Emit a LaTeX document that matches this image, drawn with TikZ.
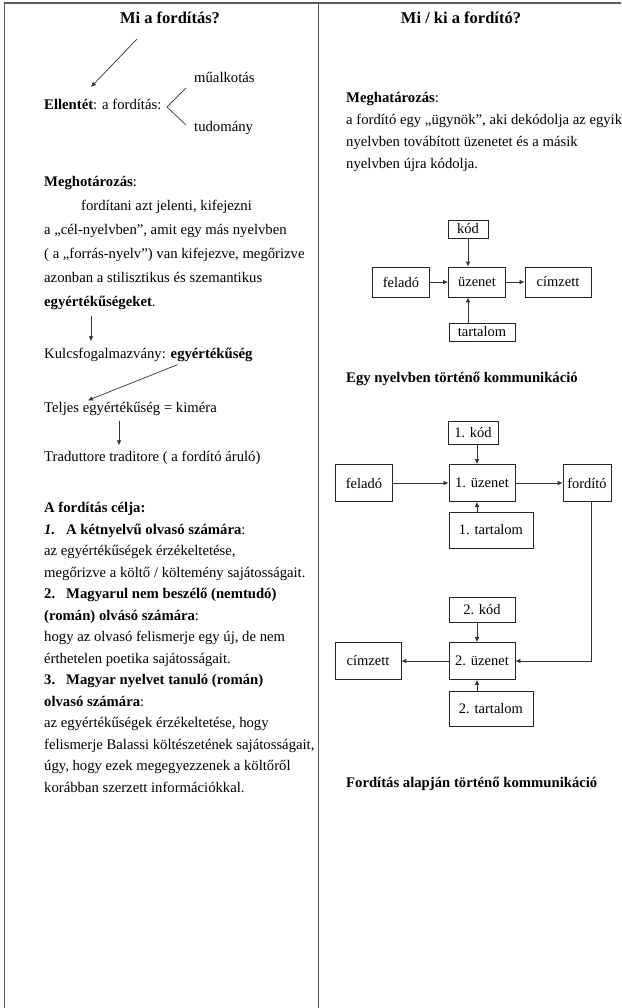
\documentclass[tikz,border=0pt]{standalone}
\usepackage{fontspec}
\setmainfont{Liberation Serif}
\usetikzlibrary{arrows.meta,positioning}

\tikzset{
  txt/.style={anchor=west, inner sep=0pt, text height=10pt, text depth=3pt, font=\fontsize{14.7}{16}\selectfont},
  cim/.style={inner sep=0pt, text height=11pt, text depth=3pt, font=\fontsize{16.5}{18}\selectfont\bfseries},
  doboz/.style={draw=black!85, line width=0.8pt, inner sep=0pt, font=\fontsize{14.5}{16}\selectfont},
  nyil/.style={-{Latex[length=5pt,width=4.5pt]}, line width=0.7pt, draw=black!80},
  keret/.style={line width=1.5pt, draw=black!65}
}

\begin{document}
\begin{tikzpicture}[x=1pt, y=-1pt]
    \useasboundingbox (0,0) rectangle (621,1008);

    % keret
    \draw[keret] (4.5,1008) -- (4.5,3) -- (621,3);
    \draw[keret] (318.5,3) -- (318.5,1008);

    % bal oszlop
    \node[cim] (cimbal) at (170,20) {Mi a fordítás?};
    \coordinate (ferde1) at (137,39);
    \coordinate (ferde2) at (91,87);
    \draw[nyil] (ferde1) -- (ferde2);

    \node[txt] (ellentet) at (44,106) {\textbf{Ellentét}: a fordítás:};
    \node[txt] (mualkotas) at (194,79) {műalkotás};
    \node[txt] (tudomany) at (194,128) {tudomány};
    \coordinate (csucs) at (167,107);
    \draw[line width=0.8pt, black!70] (186,88) -- (csucs) -- (186,125);

    \node[txt] (meghot) at (44,183) {\textbf{Meghotározás}:};
    \foreach \sor [count=\i from 0] in {
        {\hspace*{37pt}fordítani azt jelenti, kifejezni},
        {a „cél-nyelvben”, amit egy más nyelvben},
        {( a „forrás-nyelv”) van kifejezve, megőrizve},
        {azonban a stilisztikus és szemantikus},
        {\textbf{egyértékűségeket}.}
    } \node[txt] (def\i) at (44,207+24*\i) {\sor};

    \node[txt] (kulcs) at (44,355) {Kulcsfogalmazvány: \textbf{egyértékűség}};
    \node[txt] (teljes) at (44,409) {Teljes egyértékűség = kiméra};
    \node[txt] (tradu) at (44,458) {Traduttore traditore ( a fordító áruló)};
    \draw[nyil, shorten <=6pt, shorten >=7pt] ([xshift=47pt]def4.south west) -- ([xshift=47pt]kulcs.north west);
    \draw[nyil, shorten <=8pt, shorten >=5pt] ([xshift=141pt]kulcs.south west) -- ([xshift=39pt]teljes.north west);
    \draw[nyil, shorten <=5pt, shorten >=6pt] ([xshift=75pt]teljes.south west) -- ([xshift=75pt]tradu.north west);

    % a fordítás célja
    \foreach \sor [count=\i from 0] in {
        {\textbf{A fordítás célja:}},
        {\textbf{\textit{1.}}\hspace*{11pt}\textbf{A kétnyelvű olvasó számára}:},
        {az egyértékűségek érzékeltetése,},
        {megőrizve a költő / költemény sajátosságait.},
        {\textbf{2.\hspace*{11pt}Magyarul nem beszélő (nemtudó)}},
        {\textbf{(román) olvásó számára}:},
        {hogy az olvasó felismerje egy új, de nem},
        {érthetelen poetika sajátosságait.},
        {\textbf{3.\hspace*{11pt}Magyar nyelvet tanuló (román)}},
        {\textbf{olvasó számára}:},
        {az egyértékűségek érzékeltetése, hogy},
        {felismerje Balassi költészetének sajátosságait,},
        {úgy, hogy ezek megegyezzenek a költőről},
        {korábban szerzett információkkal.}
    } \node[txt] (cel\i) at (44,509+21.5*\i) {\sor};

    % jobb oszlop
    \node[cim] (cimjobb) at (461,20) {Mi / ki a fordító?};
    \foreach \sor [count=\i from 0] in {
        {\textbf{Meghatározás}:},
        {a fordító egy „ügynök”, aki dekódolja az egyik},
        {nyelvben továbított üzenetet és a másik},
        {nyelvben újra kódolja.}
    } \node[txt] (mh\i) at (346,99+22*\i) {\sor};

    % egy nyelvben
    \node[doboz, minimum width=40, minimum height=18] (kod) at (468,229) {kód};
    \node[doboz, minimum width=57, minimum height=30] (uzenet) at (477,282) {üzenet};
    \node[doboz, minimum width=57, minimum height=30] (felado) at (401,282) {feladó};
    \node[doboz, minimum width=66, minimum height=30] (cimzett) at (558,282) {címzett};
    \node[doboz, minimum width=66, minimum height=18] (tartalom) at (482,332) {tartalom};
    \draw[nyil] (kod.south) -- (kod.south |- uzenet.north);
    \draw[nyil] (kod.south |- tartalom.north) -- (kod.south |- uzenet.south);
    \draw[nyil] (felado) -- (uzenet);
    \draw[nyil] (uzenet) -- (cimzett);
    \node[txt] (egynyelv) at (346,379) {\textbf{Egy nyelvben történő kommunikáció}};

    % forditas alapjan
    \node[doboz, minimum width=50, minimum height=23] (kodA) at (473,433) {1. kód};
    \node[doboz, minimum width=66, minimum height=37] (uzenetA) at (482,483) {1. üzenet};
    \node[doboz, minimum width=57, minimum height=37] (feladoA) at (364,483) {feladó};
    \node[doboz, minimum width=48, minimum height=37] (fordito) at (587,483) {fordító};
    \node[doboz, minimum width=84, minimum height=36] (tartalomA) at (491,530) {1. tartalom};
    \draw[nyil] (kodA.south -| 477,0) -- (uzenetA.north -| 477,0);
    \draw[nyil] (tartalomA.north -| 477,0) -- (uzenetA.south -| 477,0);
    \draw[nyil] (feladoA) -- (uzenetA);
    \draw[nyil] (uzenetA) -- (fordito);

    \node[doboz, minimum width=66, minimum height=25] (kodB) at (482,610) {2. kód};
    \node[doboz, minimum width=66, minimum height=37] (uzenetB) at (482,661) {2. üzenet};
    \node[doboz, minimum width=66, minimum height=37] (cimzettB) at (368,661) {címzett};
    \node[doboz, minimum width=84, minimum height=35] (tartalomB) at (491,709) {2. tartalom};
    \draw[nyil] (kodB.south -| 477,0) -- (uzenetB.north -| 477,0);
    \draw[nyil] (tartalomB.north -| 477,0) -- (uzenetB.south -| 477,0);
    \draw[nyil] (uzenetB) -- (cimzettB);
    \draw[nyil] ([xshift=4pt]fordito.south) -- ([xshift=4pt]fordito.south |- uzenetB.east) -- (uzenetB.east);
    \node[txt] (fordalap) at (346,784) {\textbf{Fordítás alapján történő kommunikáció}};
\end{tikzpicture}
\end{document}
